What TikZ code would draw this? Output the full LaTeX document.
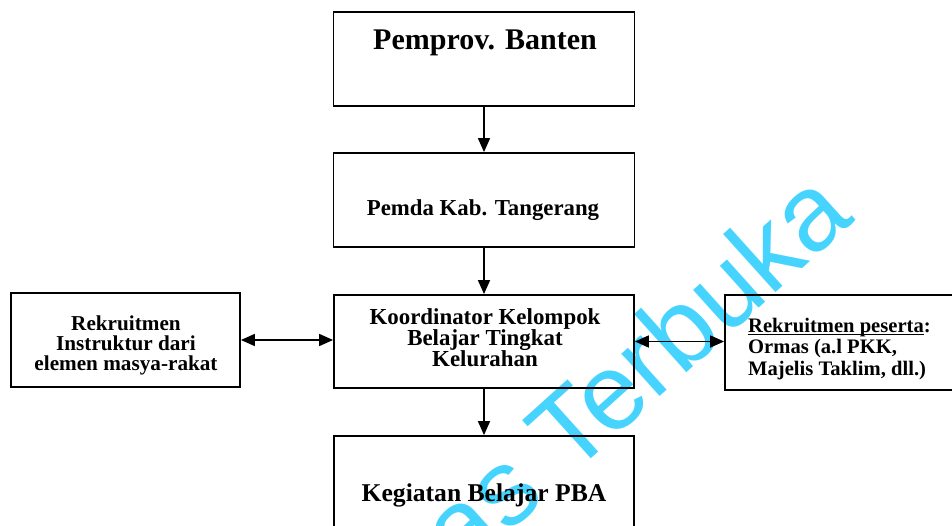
\documentclass[tikz,border=0pt]{standalone}
\usepackage{fontspec}
\setmainfont{Liberation Serif}
\newfontfamily\wmfont{Liberation Sans}
\usetikzlibrary{arrows.meta}
\definecolor{wmcol}{RGB}{70,212,255}
\newcommand\myul[1]{\setbox0\hbox{#1}\rlap{\rule[-2.5pt]{\wd0}{1.2pt}}\box0}
\begin{document}
\begin{tikzpicture}[x=1pt,y=-1pt,
  box/.style={draw,line width=1.8pt,line join=miter,inner sep=0pt},
  tip/.tip={Triangle[length=14pt,width=12pt]},
  arr/.style={line width=1.6pt,-tip},
  darr/.style={line width=1.6pt,tip-tip},
  lbl/.style={align=center,inner sep=0pt},
  wmtext/.style={text=wmcol,inner sep=0pt,rotate=42,font=\wmfont\fontsize{108}{108}\selectfont}]
\clip (0,0) rectangle (952,526);
% watermark
\node[wmtext,anchor=base west] (wmb) at (570,478) {Terbuka};
\node[wmtext,anchor=base east] (wma) at (570,478) {Universitas\kern0.278em};
% boxes
\node[box,minimum width=301pt,minimum height=94pt] (b1) at (484,59) {};
\node[box,minimum width=301pt,minimum height=94pt] (b2) at (484,200) {};
\node[box,minimum width=300pt,minimum height=93pt] (b3) at (484,341.5) {};
\node[box,minimum width=300pt,minimum height=128pt] (b4) at (484,500) {};
\node[box,minimum width=229pt,minimum height=94pt] (lb) at (125.5,340) {};
\node[box,minimum width=275pt,minimum height=95pt] (rb) at (862.5,342.5) {};
% texts
\node[lbl,font=\bfseries\fontsize{30}{30}\selectfont] (t1) at (485,43) {Pemprov. Banten};
\node[lbl,font=\bfseries\fontsize{22.8}{22}\selectfont] (t2) at (483,210) {Pemda Kab. Tangerang};
\node[lbl,font=\bfseries\fontsize{22.9}{21}\selectfont] (t3) at (485,338) {Koordinator Kelompok\\Belajar Tingkat\\Kelurahan};
\node[lbl,font=\bfseries\fontsize{21.2}{20}\selectfont] (t4) at (126,345) {Rekruitmen\\Instruktur dari\\elemen masya-rakat};
\node[lbl,align=left,anchor=west,font=\bfseries\fontsize{20.6}{21.5}\selectfont] (t5) at (748,349) {\myul{Rekruitmen peserta}:\\Ormas (a.l PKK,\\Majelis Taklim, dll.)};
\node[lbl,font=\bfseries\fontsize{25.6}{26}\selectfont] (t6) at (484,495) {Kegiatan Belajar PBA};
% connectors
\draw[arr] (b1.south) -- (b2.north);
\draw[arr] (b2.south) -- (b3.north);
\draw[arr] (b3.south) -- (b4.north);
\draw[darr] (lb.east) -- (lb.east -| b3.west);
\draw[darr] (b3.east) -- (b3.east -| rb.west);
\end{tikzpicture}
\end{document}
